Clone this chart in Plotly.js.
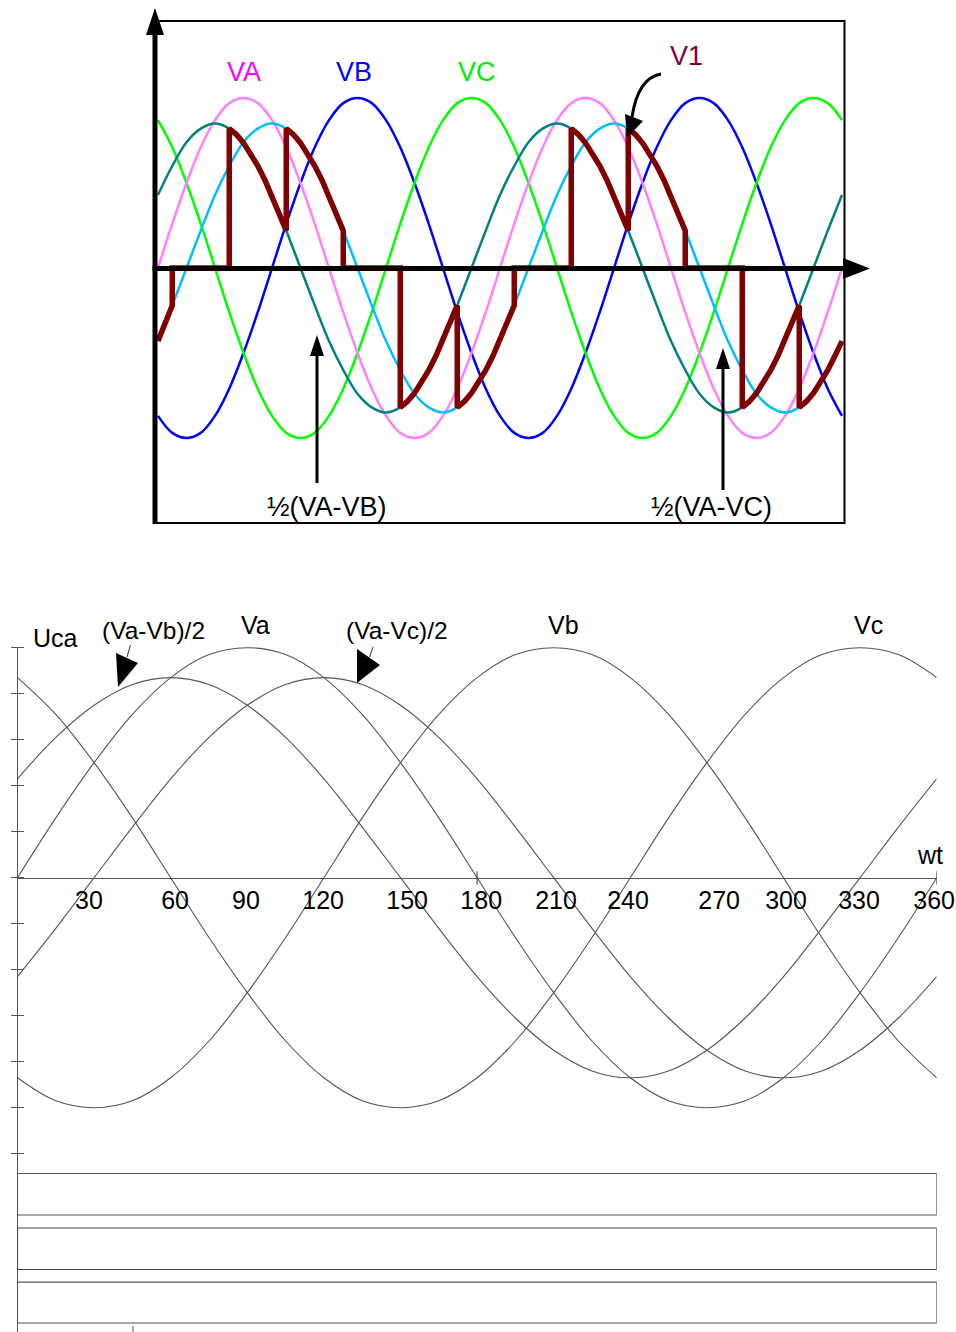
<!DOCTYPE html>
<html><head><meta charset="utf-8">
<script src="https://cdn.plot.ly/plotly-3.0.1.min.js"></script>
<style>html,body{margin:0;padding:0;background:#fff}#chart{width:956px;height:1332px}</style>
</head><body><div id="chart"></div>
<script>
// ---------- TOP PANEL DATA (angle in degrees, values in per-unit) ----------
const topTheta = [0,15,30,45,60,75,90,105,120,135,150,165,180,195,210,225,240,255,270,285,300,315,330,345,360,
  375,390,405,420,435,450,465,480,495,510,525,540,555,570,585,600,615,630,645,660,675,690,705,720];
const topVA = [0,0.26,0.5,0.71,0.87,0.97,1,0.97,0.87,0.71,0.5,0.26,0,-0.26,-0.5,-0.71,-0.87,-0.97,-1,-0.97,-0.87,-0.71,-0.5,-0.26,0,
  0.26,0.5,0.71,0.87,0.97,1,0.97,0.87,0.71,0.5,0.26,0,-0.26,-0.5,-0.71,-0.87,-0.97,-1,-0.97,-0.87,-0.71,-0.5,-0.26,0];
const topVB = [-0.87,-0.97,-1,-0.97,-0.87,-0.71,-0.5,-0.26,0,0.26,0.5,0.71,0.87,0.97,1,0.97,0.87,0.71,0.5,0.26,0,-0.26,-0.5,-0.71,-0.87,
  -0.97,-1,-0.97,-0.87,-0.71,-0.5,-0.26,0,0.26,0.5,0.71,0.87,0.97,1,0.97,0.87,0.71,0.5,0.26,0,-0.26,-0.5,-0.71,-0.87];
const topVC = [0.87,0.71,0.5,0.26,0,-0.26,-0.5,-0.71,-0.87,-0.97,-1,-0.97,-0.87,-0.71,-0.5,-0.26,0,0.26,0.5,0.71,0.87,0.97,1,0.97,0.87,
  0.71,0.5,0.26,0,-0.26,-0.5,-0.71,-0.87,-0.97,-1,-0.97,-0.87,-0.71,-0.5,-0.26,0,0.26,0.5,0.71,0.87,0.97,1,0.97,0.87];
const topHalfAB = [0.43,0.6,0.74,0.82,0.85,0.82,0.74,0.6,0.43,0.22,0,-0.22,-0.43,-0.6,-0.74,-0.82,-0.85,-0.82,-0.74,-0.6,-0.43,-0.22,0,0.22,0.43,
  0.6,0.74,0.82,0.85,0.82,0.74,0.6,0.43,0.22,0,-0.22,-0.43,-0.6,-0.74,-0.82,-0.85,-0.82,-0.74,-0.6,-0.43,-0.22,0,0.22,0.43];
const topHalfAC = [-0.43,-0.22,0,0.22,0.43,0.6,0.74,0.82,0.85,0.82,0.74,0.6,0.43,0.22,0,-0.22,-0.43,-0.6,-0.74,-0.82,-0.85,-0.82,-0.74,-0.6,-0.43,
  -0.22,0,0.22,0.43,0.6,0.74,0.82,0.85,0.82,0.74,0.6,0.43,0.22,0,-0.22,-0.43,-0.6,-0.74,-0.82,-0.85,-0.82,-0.74,-0.6,-0.43];

// V1 stepped output waveform
const v1Theta = [0,7.5,15, 15,75,
  75,82.5,90,97.5,105,112.5,120,127.5,135,
  135,142.5,150,157.5,165,172.5,180,187.5,195,
  195,255,
  255,262.5,270,277.5,285,292.5,300,307.5,315,
  315,322.5,330,337.5,345,352.5,360,367.5,375,
  375,435,
  435,442.5,450,457.5,465,472.5,480,487.5,495,
  495,502.5,510,517.5,525,532.5,540,547.5,555,
  555,615,
  615,622.5,630,637.5,645,652.5,660,667.5,675,
  675,682.5,690,697.5,705,712.5,720];
const v1Value = [-0.43,-0.33,-0.22, 0,0,
  0.82,0.785,0.736,0.674,0.601,0.518,0.425,0.326,0.22,
  0.82,0.785,0.736,0.674,0.601,0.518,0.425,0.326,0.22,
  0,0,
  -0.82,-0.785,-0.736,-0.674,-0.601,-0.518,-0.425,-0.326,-0.22,
  -0.82,-0.785,-0.736,-0.674,-0.601,-0.518,-0.425,-0.326,-0.22,
  0,0,
  0.82,0.785,0.736,0.674,0.601,0.518,0.425,0.326,0.22,
  0.82,0.785,0.736,0.674,0.601,0.518,0.425,0.326,0.22,
  0,0,
  -0.82,-0.785,-0.736,-0.674,-0.601,-0.518,-0.425,-0.326,-0.22,
  -0.82,-0.785,-0.736,-0.674,-0.601,-0.518,-0.43];

// ---------- BOTTOM PANEL DATA ----------
const botTheta = [0,15,30,45,60,75,90,105,120,135,150,165,180,195,210,225,240,255,270,285,300,315,330,345,360];
const botVa = [0,0.26,0.5,0.71,0.87,0.97,1,0.97,0.87,0.71,0.5,0.26,0,-0.26,-0.5,-0.71,-0.87,-0.97,-1,-0.97,-0.87,-0.71,-0.5,-0.26,0];
const botVb = [-0.87,-0.97,-1,-0.97,-0.87,-0.71,-0.5,-0.26,0,0.26,0.5,0.71,0.87,0.97,1,0.97,0.87,0.71,0.5,0.26,0,-0.26,-0.5,-0.71,-0.87];
const botVc = [0.87,0.71,0.5,0.26,0,-0.26,-0.5,-0.71,-0.87,-0.97,-1,-0.97,-0.87,-0.71,-0.5,-0.26,0,0.26,0.5,0.71,0.87,0.97,1,0.97,0.87];
const botHalfAB = [0.43,0.61,0.75,0.84,0.87,0.84,0.75,0.61,0.43,0.22,0,-0.22,-0.43,-0.61,-0.75,-0.84,-0.87,-0.84,-0.75,-0.61,-0.43,-0.22,0,0.22,0.43];
const botHalfAC = [-0.43,-0.22,0,0.22,0.43,0.61,0.75,0.84,0.87,0.84,0.75,0.61,0.43,0.22,0,-0.22,-0.43,-0.61,-0.75,-0.84,-0.87,-0.84,-0.75,-0.61,-0.43];
const tickLabels = ['30','60','90','120','150','180','210','240','270','300','330','360'];
const tickLabelPos = [28.0,61.7,89.5,119.7,152.6,181.6,210.9,239.1,274.8,301.0,329.6,359.0];
const yTicks = [-1.2,-1.0,-0.8,-0.6,-0.4,-0.2,0,0.2,0.4,0.6,0.8,1.0];

// ---------- HELPERS ----------
const W = 956, H = 1332;
const px = x => x / W, py = y => 1 - y / H;
const FONT = 'Liberation Sans, Arial, sans-serif';
const tri = pts => 'M' + pts.map(p => px(p[0]).toFixed(5) + ',' + py(p[1]).toFixed(5)).join(' L') + ' Z';

function topLine(y, color) {
  return {x: topTheta, y: y, xaxis: 'x', yaxis: 'y', mode: 'lines',
    line: {color: color, width: 2.5, shape: 'spline'}, hoverinfo: 'skip'};
}
function botLine(y) {
  return {x: botTheta, y: y, xaxis: 'x2', yaxis: 'y2', mode: 'lines',
    line: {color: '#555', width: 1.1, shape: 'spline'}, hoverinfo: 'skip'};
}

const traces = [
  topLine(topVB, '#0000ff'),
  topLine(topVC, '#00ff00'),
  topLine(topVA, '#ff80ff'),
  topLine(topHalfAC, '#00bfff'),
  topLine(topHalfAB, '#008080'),
  {x: v1Theta, y: v1Value, xaxis: 'x', yaxis: 'y', mode: 'lines',
   line: {color: '#800000', width: 5.5}, hoverinfo: 'skip'},
  botLine(botVa), botLine(botVb), botLine(botVc), botLine(botHalfAB), botLine(botHalfAC),
  {x: [null], y: [null], xaxis: 'x2', yaxis: 'y3', mode: 'lines', hoverinfo: 'skip'}
];

const shapes = [
  // top frame
  {type: 'rect', xref: 'paper', yref: 'paper', x0: px(155), x1: px(844.5), y0: py(523), y1: py(21),
   line: {color: '#000', width: 2}, layer: 'above'},
  // left thick axis + arrow
  {type: 'line', xref: 'paper', yref: 'paper', x0: px(155), x1: px(155), y0: py(524), y1: py(33),
   line: {color: '#000', width: 5}, layer: 'above'},
  {type: 'path', xref: 'paper', yref: 'paper', path: tri([[146, 35], [164, 35], [155, 8]]),
   fillcolor: '#000', line: {width: 0}, layer: 'above'},
  // horizontal thick axis + arrow
  {type: 'line', xref: 'paper', yref: 'paper', x0: px(152.5), x1: px(846), y0: py(268.5), y1: py(268.5),
   line: {color: '#000', width: 5}, layer: 'above'},
  {type: 'path', xref: 'paper', yref: 'paper', path: tri([[843, 258], [843, 279], [870, 268.5]]),
   fillcolor: '#000', line: {width: 0}, layer: 'above'},
  // 1/2(VA-VB) pointer
  {type: 'line', xref: 'paper', yref: 'paper', x0: px(317), x1: px(317), y0: py(354), y1: py(483),
   line: {color: '#000', width: 3}, layer: 'above'},
  {type: 'path', xref: 'paper', yref: 'paper', path: tri([[310, 356], [324, 356], [317, 335]]),
   fillcolor: '#000', line: {width: 0}, layer: 'above'},
  // 1/2(VA-VC) pointer
  {type: 'line', xref: 'paper', yref: 'paper', x0: px(723), x1: px(723), y0: py(367), y1: py(490),
   line: {color: '#000', width: 3}, layer: 'above'},
  {type: 'path', xref: 'paper', yref: 'paper', path: tri([[716, 369], [730, 369], [723, 348]]),
   fillcolor: '#000', line: {width: 0}, layer: 'above'},
  // V1 curved pointer
  {type: 'path', xref: 'paper', yref: 'paper',
   path: 'M' + px(661) + ',' + py(74) + ' Q' + px(638) + ',' + py(78) + ' ' + px(632) + ',' + py(117),
   line: {color: '#000', width: 3}, layer: 'above'},
  {type: 'path', xref: 'paper', yref: 'paper', path: tri([[625, 114], [643, 121], [627, 138]]),
   fillcolor: '#000', line: {width: 0}, layer: 'above'},

  // bottom: crossing ticks on wt axis
  {type: 'line', xref: 'x2', yref: 'y2', x0: 180, x1: 180, y0: -0.03, y1: 0.028, line: {color: '#333', width: 1}},
  {type: 'line', xref: 'x2', yref: 'y2', x0: 360, x1: 360, y0: -0.03, y1: 0.028, line: {color: '#333', width: 1}},
  // bottom pointer triangles
  {type: 'path', xref: 'paper', yref: 'paper', path: tri([[116, 653], [138, 663], [118, 687]]),
   fillcolor: '#000', line: {width: 0}},
  {type: 'line', xref: 'paper', yref: 'paper', x0: px(130.5), x1: px(127), y0: py(645), y1: py(657),
   line: {color: '#333', width: 1}},
  {type: 'path', xref: 'paper', yref: 'paper', path: tri([[357, 649], [380, 665], [357, 683]]),
   fillcolor: '#000', line: {width: 0}},
  {type: 'line', xref: 'paper', yref: 'paper', x0: px(373), x1: px(369.5), y0: py(647), y1: py(657),
   line: {color: '#333', width: 1}},
  // bottom rectangles
  {type: 'rect', xref: 'x2', yref: 'y2', x0: 0, x1: 360, y0: -1.286, y1: -1.4665, line: {color: '#555', width: 1.2}},
  {type: 'rect', xref: 'x2', yref: 'y2', x0: 0, x1: 360, y0: -1.523, y1: -1.7035, line: {color: '#444', width: 1.2}},
  {type: 'rect', xref: 'x2', yref: 'y2', x0: 0, x1: 360, y0: -1.758, y1: -1.936, line: {color: '#555', width: 1.2}},
  // small tick at very bottom
  {type: 'line', xref: 'paper', yref: 'paper', x0: px(133), x1: px(133), y0: py(1326), y1: py(1332),
   line: {color: '#555', width: 1}}
];

function lab(text, x, y, color, size) {
  return {text: text, xref: 'paper', yref: 'paper', x: px(x), y: py(y), xanchor: 'center', yanchor: 'middle',
    showarrow: false, font: {family: FONT, size: size, color: color}};
}
const annotations = [
  lab('VA', 244, 72, '#ff00ff', 27),
  lab('VB', 353.5, 72, '#0000ff', 27),
  lab('VC', 476.5, 72, '#00ee00', 27),
  lab('V1', 686, 56, '#800040', 27),
  lab('½(VA-VB)', 327, 507, '#000', 27),
  lab('½(VA-VC)', 711, 507, '#000', 27),
  lab('Uca', 55, 638, '#000', 25),
  lab('(Va-Vb)/2', 153, 630, '#000', 24.5),
  lab('Va', 255, 625, '#000', 25),
  lab('(Va-Vc)/2', 397, 630, '#000', 24.5),
  lab('Vb', 563, 625, '#000', 25),
  lab('Vc', 868, 625, '#000', 25),
  lab('wt', 930, 855, '#000', 25)
];

const layout = {
  width: W, height: H, margin: {l: 0, r: 0, t: 0, b: 0}, showlegend: false, hovermode: false,
  paper_bgcolor: '#fff', plot_bgcolor: 'rgba(0,0,0,0)',
  xaxis: {domain: [px(155), px(845)], range: [-3.16, 723.16], visible: false},
  yaxis: {domain: [py(523), py(21)], range: [-1.5, 1.453], visible: false},
  xaxis2: {domain: [px(17.5), px(936.7)], range: [0, 360], anchor: 'free', position: py(877.7),
    showline: true, linecolor: '#555', linewidth: 1, ticks: '', tickvals: tickLabelPos, ticktext: tickLabels,
    tickfont: {family: FONT, size: 25, color: '#000'}, showgrid: false, zeroline: false,
    ticklabeloverflow: 'allow'},
  yaxis2: {domain: [0, py(646.5)], range: [-1.9752, 1.0052], anchor: 'x2', showline: true, linecolor: '#555',
    linewidth: 1, ticks: 'outside', ticklen: 6, tickcolor: '#555', tickvals: yTicks, showticklabels: false,
    showgrid: false, zeroline: false},
  yaxis3: {overlaying: 'y2', range: [-1.9752, 1.0052], anchor: 'x2', ticks: 'inside', ticklen: 6,
    tickcolor: '#555', tickvals: yTicks, showticklabels: false, showline: false, showgrid: false, zeroline: false},
  shapes: shapes,
  annotations: annotations
};

Plotly.newPlot('chart', traces, layout, {displayModeBar: false, staticPlot: true});
</script></body></html>
